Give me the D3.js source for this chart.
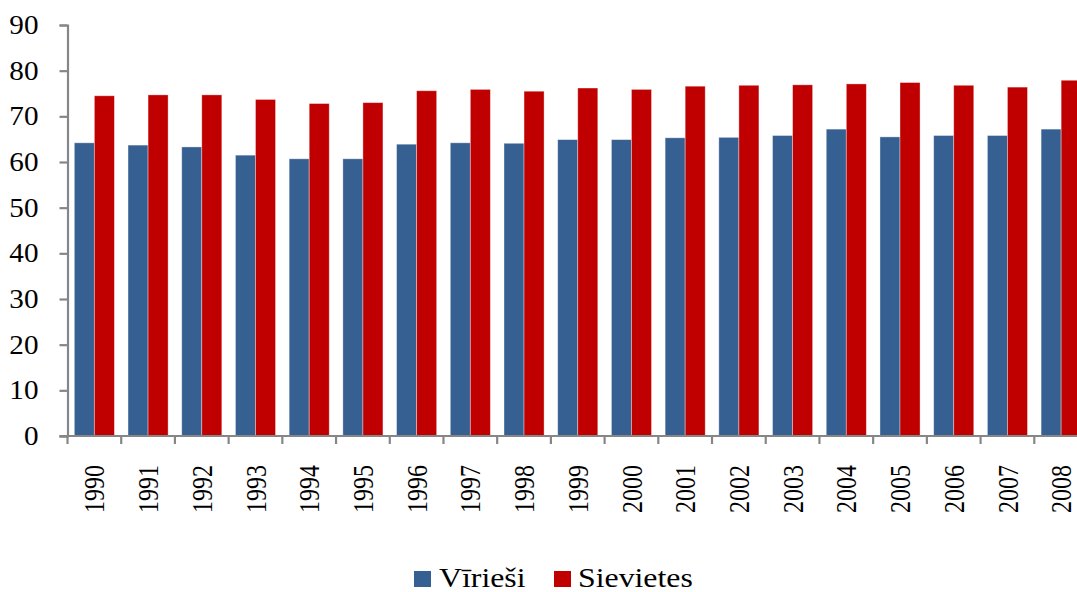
<!DOCTYPE html>
<html lang="lv">
<head>
    <meta charset="UTF-8">
    <title>Vidējais paredzamais mūža ilgums</title>
    <script src="https://d3js.org/d3.v7.min.js"></script>
    <style>
        body { margin: 0; background: #fff; }
        svg { display: block; }
        .tick-label, .legend-label {
            font-family: "Liberation Serif", "Times New Roman", serif;
            fill: #000;
        }
        .tick-label { font-size: 26.5px; }
        .x-label { font-size: 24px; }
        .legend-label { font-size: 26.5px; }
    </style>
</head>
<body>
<svg id="chart"></svg>
<script>
    // Data
    const years = ["1990", "1991", "1992", "1993", "1994", "1995", "1996", "1997", "1998", "1999",
                   "2000", "2001", "2002", "2003", "2004", "2005", "2006", "2007", "2008"];
    const virieshi = [64.2, 63.7, 63.3, 61.5, 60.7, 60.7, 63.9, 64.2, 64.1, 64.9,
                      64.9, 65.3, 65.4, 65.8, 67.2, 65.5, 65.8, 65.8, 67.2];
    const sievietes = [74.5, 74.7, 74.7, 73.7, 72.8, 73.0, 75.6, 75.9, 75.5, 76.2,
                       75.9, 76.6, 76.8, 76.9, 77.1, 77.4, 76.8, 76.4, 77.9];
    const yTicks = [0, 10, 20, 30, 40, 50, 60, 70, 80, 90];
    const seriesNames = ["Vīrieši", "Sievietes"];
    const colors = ["#376092", "#C00000"];

    const width = 1077, height = 592;
    const stretch = 1.2;  // the original picture is stretched sideways, so is its text
    const yStretch = 1.1;
    const svg = d3.select("#chart").attr("width", width).attr("height", height);

    // Plot area (right side continues past the window edge, as in the original)
    const plotLeft = 67.5, plotRight = 1088, plotTop = 25, plotBottom = 436;

    const x = d3.scaleBand().domain(years).range([plotLeft, plotRight]).paddingInner(0).paddingOuter(0);
    const xSeries = d3.scaleBand().domain(seriesNames).range([0, x.bandwidth()]).paddingInner(0).paddingOuter(0.34);
    const y = d3.scaleLinear().domain([0, 90]).range([plotBottom, plotTop]);

    const rows = years.map((yr, i) => ({ year: yr, values: [virieshi[i], sievietes[i]] }));

    // Bars
    const group = svg.append("g").selectAll("g")
        .data(rows)
        .join("g")
        .attr("transform", d => `translate(${x(d.year)},0)`);

    group.selectAll("rect")
        .data(d => d.values.map((v, k) => ({ name: seriesNames[k], value: v, k: k })))
        .join("rect")
        .attr("x", d => xSeries(d.name))
        .attr("y", d => y(d.value))
        .attr("width", xSeries.bandwidth())
        .attr("height", d => y(0) - y(d.value))
        .attr("fill", d => colors[d.k])
        .attr("stroke", "rgba(255,255,255,0.45)")
        .attr("stroke-width", 0.8);

    // Y axis
    const yAxis = svg.append("g")
        .attr("transform", `translate(${plotLeft},0)`)
        .call(d3.axisLeft(y).tickValues(yTicks).tickSize(8));
    yAxis.select(".domain").attr("stroke", "#868686").attr("stroke-width", 2.2);
    yAxis.selectAll(".tick line").attr("stroke", "#868686").attr("stroke-width", 2.2);
    yAxis.attr("font-family", null).attr("font-size", null);
    yAxis.selectAll(".tick text")
        .attr("class", "tick-label")
        .attr("x", -29 / yStretch)
        .attr("transform", `scale(${yStretch},1)`);

    // X axis: line with ticks between categories
    const xAxis = svg.append("g");
    xAxis.append("line")
        .attr("x1", plotLeft - 8).attr("x2", plotRight)
        .attr("y1", y(0)).attr("y2", y(0))
        .attr("stroke", "#868686").attr("stroke-width", 2.2);
    xAxis.selectAll(".xtick")
        .data(years.concat([null]))
        .join("line")
        .attr("class", "xtick")
        .attr("x1", (d, i) => plotLeft + i * x.step())
        .attr("x2", (d, i) => plotLeft + i * x.step())
        .attr("y1", y(0)).attr("y2", y(0) + 8)
        .attr("stroke", "#868686").attr("stroke-width", 2.2);

    xAxis.selectAll(".xlabel")
        .data(years)
        .join("text")
        .attr("class", "tick-label x-label")
        .attr("text-anchor", "end")
        .attr("dy", "0.35em")
        .attr("transform", d => `translate(${x(d) + x.bandwidth() / 2},${y(0) + 29}) scale(${stretch},1) rotate(-90)`)
        .text(d => d);

    // Legend
    const legendBox = [[414, 571], [554, 571]];
    const legendText = [439, 578];
    seriesNames.forEach((name, k) => {
        svg.append("rect")
            .attr("x", legendBox[k][0]).attr("y", legendBox[k][1])
            .attr("width", 17).attr("height", 16)
            .attr("fill", colors[k]);
        svg.append("text")
            .attr("class", "legend-label")
            .attr("transform", `translate(${legendText[k]},587) scale(${stretch},1)`)
            .text(name);
    });
</script>
</body>
</html>
